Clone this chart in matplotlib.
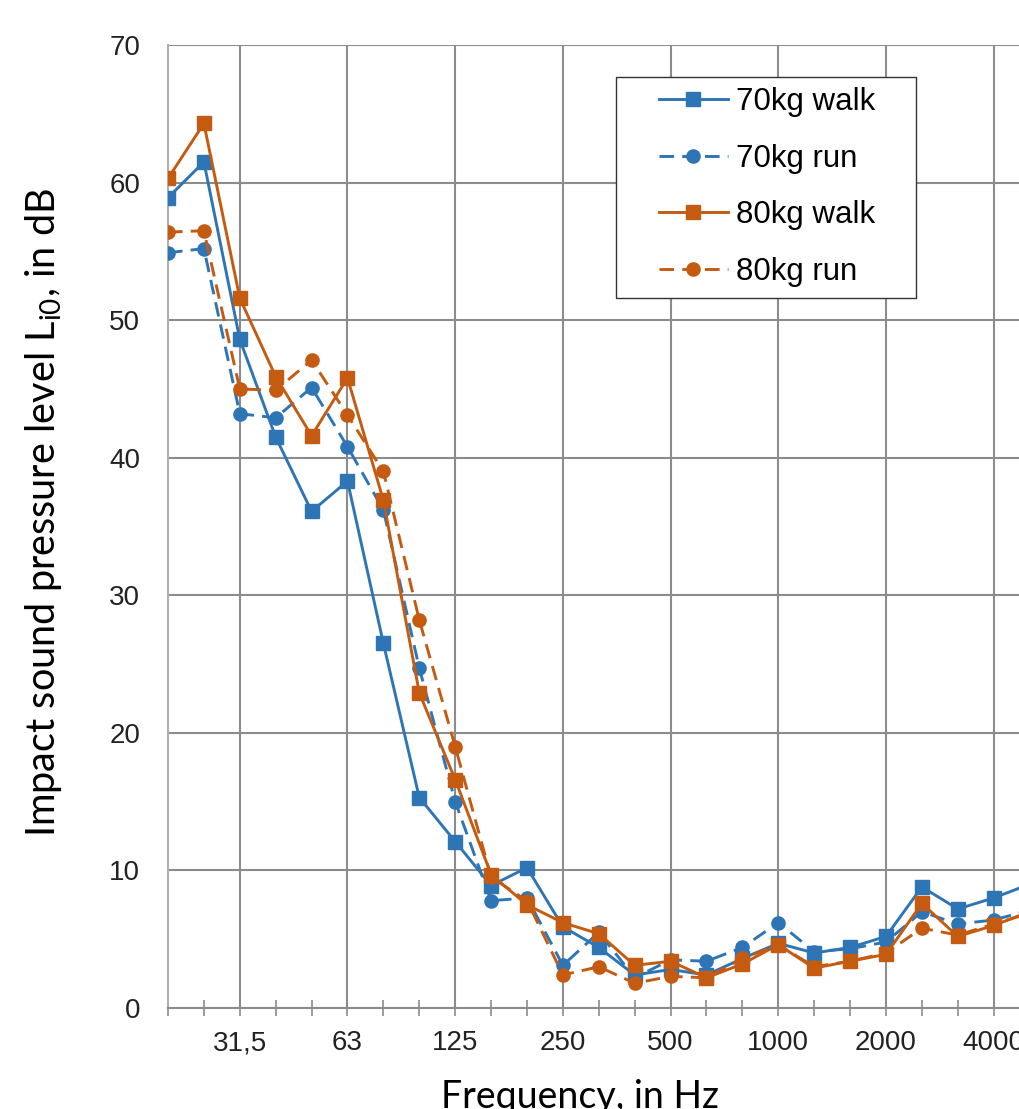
import numpy as np
import matplotlib
matplotlib.use("Agg")
import matplotlib.pyplot as plt
from matplotlib.patches import Rectangle

# third-octave bands, 20 Hz .. 5000 Hz
bands = ["20", "25", "31,5", "40", "50", "63", "80", "100", "125", "160", "200",
         "250", "315", "400", "500", "630", "800", "1000", "1250", "1600", "2000",
         "2500", "3150", "4000", "5000"]
major_labels = ["31,5", "63", "125", "250", "500", "1000", "2000", "4000"]

walk70 = [58.9, 61.5, 48.6, 41.5, 36.1, 38.3, 26.5, 15.3, 12.1, 8.9, 10.2, 5.9, 4.4,
          2.4, 2.8, 2.4, 3.6, 4.7, 4.0, 4.4, 5.2, 8.8, 7.2, 8.0, 9.0]
run70 = [54.9, 55.2, 43.2, 42.9, 45.1, 40.8, 36.2, 24.7, 15.0, 7.8, 8.0, 3.1, 5.5,
         2.2, 3.5, 3.4, 4.4, 6.2, 4.1, 4.3, 4.8, 7.0, 6.1, 6.4, 7.1]
walk80 = [60.3, 64.3, 51.6, 45.9, 41.6, 45.8, 36.9, 22.9, 16.6, 9.7, 7.5, 6.2, 5.4,
          3.1, 3.4, 2.2, 3.2, 4.6, 2.9, 3.4, 3.9, 7.6, 5.2, 6.0, 7.0]
run80 = [56.4, 56.5, 45.0, 44.9, 47.1, 43.1, 39.0, 28.2, 19.0, 9.5, 7.8, 2.4, 3.0,
         1.8, 2.3, 2.2, 3.6, 4.6, 3.0, 3.4, 4.0, 5.8, 5.3, 6.1, 6.9]

blue = "#2E75B6"
orange = "#C55A11"
grid_c = "#8C8C8C"

plt.rcParams['font.family'] = ['Liberation Sans', 'DejaVu Sans']

fig = plt.figure(figsize=(10.2, 11.09), dpi=100)
W, H = 1020, 1109
x0, x1, ytop, ybot = 168, 168 + 24 * 35.9, 45, 1008
ax = fig.add_axes([x0 / W, 1 - ybot / H, (x1 - x0) / W, (ybot - ytop) / H])

x = np.arange(len(bands))
lw = 2.1
dash = (5, 2.8)
ax.plot(x, walk70, color=blue, lw=lw, marker="s", ms=10, label="70kg walk", zorder=3)
ax.plot(x, run70, color=blue, lw=lw, marker="o", ms=9.5, dashes=dash, label="70kg run", zorder=3)
ax.plot(x, walk80, color=orange, lw=lw, marker="s", ms=10, label="80kg walk", zorder=3)
ax.plot(x, run80, color=orange, lw=lw, marker="o", ms=9.5, dashes=dash, label="80kg run", zorder=3)

ax.set_xlim(0, len(bands) - 1)
ax.set_ylim(0, 70)
ax.set_yticks(np.arange(0, 71, 10))

major_idx = [bands.index(b) for b in major_labels]
ax.set_xticks(major_idx)
ax.set_xticklabels(major_labels)
ax.set_xticks(x, minor=True)
ax.tick_params(axis="x", which="both", direction="inout", length=12, width=1.2,
               color=grid_c, labelsize=20, pad=10, labelcolor="#222222")
ax.tick_params(axis="y", length=0, labelsize=20, pad=20, labelcolor="#222222")

ax.grid(True, which="major", color=grid_c, lw=1.5, zorder=0)
for s in ["top", "right"]:
    ax.spines[s].set_visible(False)
ax.spines["left"].set_color("#B0B0B0")
ax.spines["left"].set_linewidth(1.5)
ax.spines["bottom"].set_color(grid_c)
ax.spines["bottom"].set_linewidth(1.5)

ax.set_ylabel("Impact sound pressure level L$_{\\mathregular{i0}}$, in dB",
              family=["Lato", "DejaVu Sans"], fontsize=28.5)
ax.yaxis.set_label_coords(-104 / (x1 - x0), 0.515)
fig.text(580 / W, 1 - 1097 / H, "Frequency, in Hz", family=["Lato", "DejaVu Sans"],
         fontsize=27, ha="center", va="center")

# legend: frame drawn separately to match the asymmetric padding
ax.add_patch(Rectangle((616 / W, 1 - 298 / H), 300 / W, 221 / H, transform=fig.transFigure,
                       facecolor="white", edgecolor="#333333", lw=1.0, zorder=4, clip_on=False))
leg = ax.legend(loc="center", bbox_to_anchor=(767 / W, 1 - 187 / H),
                bbox_transform=fig.transFigure, borderaxespad=0, borderpad=0, fontsize=22.5,
                handlelength=2.2, handletextpad=0.25, labelspacing=0.85, frameon=False)
leg.set_zorder(5)

fig.savefig("out.png", dpi=100)
